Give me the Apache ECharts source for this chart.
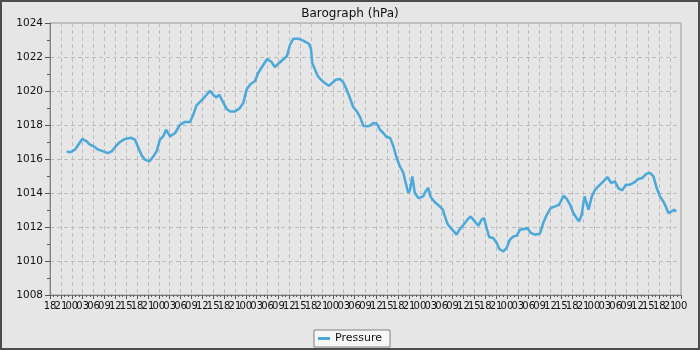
<!DOCTYPE html>
<html>
<head>
<meta charset="utf-8">
<script src="https://cdn.jsdelivr.net/npm/echarts@6/dist/echarts.min.js"></script>
<style>
  html, body { margin: 0; padding: 0; background: #e6e6e6; }
  #chart { width: 700px; height: 350px; }
</style>
</head>
<body>
<div id="chart"></div>
<script>
// hours since 18:00 on the first day
var hours = [
  4.6, 5.5, 6.9, 7.8, 8.9, 10.1, 11.0, 12.1, 13.3, 14.7, 15.9, 17.0, 18.1, 19.3, 20.7, 22.3,
  23.4, 24.4, 25.3, 26.2, 27.4, 28.5, 29.4, 30.3, 31.2, 32.0, 33.1, 34.5, 35.8, 37.2, 38.6,
  39.5, 40.4, 41.5, 42.7, 44.1, 45.0, 45.8, 46.7, 47.6, 48.7, 49.6, 51.0, 52.2, 53.3, 54.2,
  55.3, 56.5, 57.4, 58.7, 59.9, 61.1, 62.0, 63.2, 64.5, 65.3, 66.2, 67.1, 68.5, 69.8, 70.3,
  71.4, 72.0, 72.3, 73.1, 73.8, 74.7, 75.8, 76.9, 77.8, 78.8, 80.0, 80.9, 81.8, 82.7, 83.6,
  84.6, 85.5, 86.4, 87.3, 88.2, 89.2, 90.1, 91.0, 91.9, 92.8, 93.8, 94.7, 95.6, 96.5, 97.4,
  98.1, 98.8, 99.3, 99.9, 100.6, 101.6, 102.9, 103.6, 104.3, 104.9, 105.5, 106.4, 107.5,
  108.3, 108.9, 109.6, 110.5, 111.4, 112.1, 112.9, 114.0, 115.1, 116.0, 116.9, 118.1, 119.0,
  119.7, 120.4, 121.1, 122.2, 123.2, 123.9, 125.0, 125.9, 126.8, 127.8, 128.7, 129.6, 130.7,
  131.6, 132.6, 133.7, 135.1, 136.0, 137.0, 138.1, 139.3, 140.4, 141.6, 142.5, 143.4, 144.3,
  145.2, 145.9, 146.6, 147.4, 147.7, 148.5, 149.4, 150.3, 151.4, 152.6, 153.7, 154.7, 155.8,
  156.7, 157.8, 158.8, 159.9, 161.1, 162.2, 163.3, 164.5, 165.5, 166.4, 167.3, 168.2, 169.1,
  169.8, 170.5, 171.4, 172.2, 172.6
];
var pressure = [
  1016.45, 1016.39, 1016.55, 1016.84, 1017.18, 1017.04, 1016.84, 1016.74, 1016.55, 1016.45,
  1016.35, 1016.45, 1016.74, 1017.0, 1017.18, 1017.25, 1017.14, 1016.65, 1016.21, 1015.96,
  1015.86, 1016.15, 1016.45, 1017.14, 1017.33, 1017.72, 1017.33, 1017.53, 1018.0, 1018.18,
  1018.18, 1018.6, 1019.15, 1019.39, 1019.66, 1020.01, 1019.78, 1019.62, 1019.78, 1019.39,
  1018.96, 1018.8, 1018.8, 1018.96, 1019.29, 1020.08, 1020.41, 1020.57, 1021.06, 1021.5,
  1021.88, 1021.7, 1021.41, 1021.65, 1021.9, 1022.04, 1022.72, 1023.08, 1023.08, 1022.96,
  1022.92, 1022.78, 1022.43, 1021.65, 1021.25, 1020.9, 1020.66, 1020.47, 1020.31, 1020.47,
  1020.66, 1020.7, 1020.5, 1020.08, 1019.59, 1019.06, 1018.8, 1018.47, 1017.96, 1017.92,
  1017.96, 1018.12, 1018.08, 1017.72, 1017.53, 1017.29, 1017.24, 1016.74, 1016.06, 1015.56,
  1015.21, 1014.59, 1014.0, 1014.19, 1014.98, 1014.0, 1013.7, 1013.8, 1014.1, 1014.3,
  1013.8, 1013.61, 1013.41, 1013.21, 1013.02, 1012.62, 1012.19, 1011.94, 1011.74, 1011.55,
  1011.84, 1012.13, 1012.43, 1012.62, 1012.39, 1012.07, 1012.43, 1012.53, 1011.94, 1011.41,
  1011.35, 1011.06, 1010.71, 1010.56, 1010.76, 1011.25, 1011.45, 1011.49, 1011.84, 1011.88,
  1011.94, 1011.65, 1011.55, 1011.61, 1012.23, 1012.72, 1013.12, 1013.21, 1013.31, 1013.84,
  1013.65, 1013.31, 1012.82, 1012.53, 1012.33, 1012.72, 1013.8, 1013.9, 1013.02, 1013.8,
  1014.19, 1014.43, 1014.68, 1014.94, 1014.59, 1014.68, 1014.29, 1014.15, 1014.49, 1014.49,
  1014.62, 1014.82, 1014.88, 1015.14, 1015.18, 1014.98, 1014.29, 1013.8, 1013.51, 1013.21,
  1012.82, 1012.92, 1013.02, 1012.9
];
// x tick labels, one every 3 hours
var tickLabels = [
  "18", "21", "00", "03", "06", "09", "12", "15",
  "18", "21", "00", "03", "06", "09", "12", "15",
  "18", "21", "00", "03", "06", "09", "12", "15",
  "18", "21", "00", "03", "06", "09", "12", "15",
  "18", "21", "00", "03", "06", "09", "12", "15",
  "18", "21", "00", "03", "06", "09", "12", "15",
  "18", "21", "00", "03", "06", "09", "12", "15",
  "18", "21", "00"
];
var spanHours = 174;
var yMin = 1008, yMax = 1024, yStep = 2;

var seriesData = hours.map(function (h, i) { return [h, pressure[i]]; });

var chart = echarts.init(document.getElementById("chart"));
var font = "DejaVu Sans";
var dash = { color: "#bcbcbc", type: [4, 3], width: 1 };

chart.setOption({
  animation: false,
  backgroundColor: "#e6e6e6",
  textStyle: { fontFamily: font },
  title: {
    text: "Barograph (hPa)",
    left: "center",
    top: 3,
    textStyle: { fontFamily: font, fontSize: 12, fontWeight: "normal", color: "#111" }
  },
  graphic: [{
    type: "rect",
    shape: { x: 1, y: 1, width: 698, height: 348 },
    style: { fill: "none", stroke: "#4d4d4d", lineWidth: 2 },
    silent: true
  }],
  legend: {
    data: ["Pressure"],
    left: "center",
    top: 330,
    icon: "rect",
    itemWidth: 12,
    itemHeight: 3,
    itemGap: 5,
    padding: [3, 8, 3, 4],
    backgroundColor: "#f7f7f7",
    borderColor: "#808080",
    borderWidth: 1,
    borderRadius: 0,
    textStyle: { fontFamily: font, fontSize: 11, color: "#111" }
  },
  grid: {
    left: 50,
    right: 19,
    top: 23,
    bottom: 55,
    show: true,
    borderColor: "#9a9a9a",
    borderWidth: 1
  },
  xAxis: [{
    type: "value",
    position: "bottom",
    min: 0,
    max: spanHours,
    interval: 3,
    axisLine: { show: true, lineStyle: { color: "#808080" } },
    axisTick: { show: true, length: 4, lineStyle: { color: "#555" } },
    minorTick: { show: true, splitNumber: 3, length: 2, lineStyle: { color: "#555" } },
    splitLine: { show: true, lineStyle: dash },
    axisLabel: { show: false }
  }, {
    // labels only; same span as the value axis
    type: "category",
    position: "bottom",
    data: tickLabels,
    boundaryGap: false,
    axisLine: { show: false },
    axisTick: { show: false },
    splitLine: { show: false },
    axisLabel: {
      interval: 0,
      margin: 6,
      fontFamily: font,
      fontSize: 10,
      color: "#111"
    }
  }],
  yAxis: {
    type: "value",
    min: yMin,
    max: yMax,
    interval: yStep,
    axisLine: { show: true, lineStyle: { color: "#808080" } },
    axisTick: { show: true, length: 5, lineStyle: { color: "#555" } },
    minorTick: { show: true, splitNumber: 2, length: 3, lineStyle: { color: "#555" } },
    splitLine: { show: true, lineStyle: dash },
    axisLabel: {
      fontFamily: font,
      fontSize: 10.5,
      color: "#111",
      margin: 7,
      formatter: function (v) { return String(v); }
    }
  },
  series: [{
    name: "Pressure",
    type: "line",
    xAxisIndex: 0,
    data: seriesData,
    showSymbol: false,
    color: "#4aa8da",
    lineStyle: { width: 2.5 }
  }]
});
</script>
</body>
</html>
